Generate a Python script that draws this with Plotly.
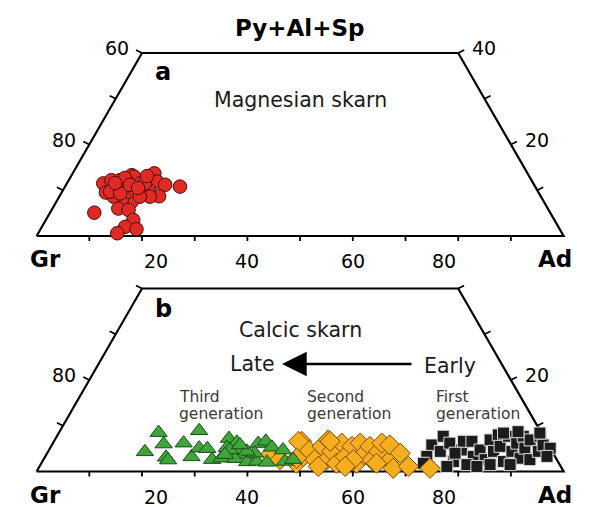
import plotly.graph_objects as go

# --- Page size (reference pixels) ---
W: int = 592
H: int = 507
OFF: int = 8            # default body margin of the html page
FW, FH = W - OFF, H - OFF

# --- Data (mol %, Gr = 100 - Ad - Py) ---
# Panel a : magnesian skarn
mg_ad = [6.9, 8.4, 8.1, 9.7, 11.4, 12.0, 13.9, 15.5, 16.9, 18.8, 21.8, 18.9, 15.3, 14.3,
         12.2, 10.3, 12.5, 14.6, 8.4, 16.6, 15.8, 18.2, 15.0, 11.1, 12.6, 13.6, 16.2, 14.8,
         10.0, 9.1, 11.2, 17.2, 11.2, 15.3, 10.4, 12.1, 14.0, 9.1, 14.4]
mg_py = [11.5, 9.5, 12.2, 12.2, 13.3, 13.0, 11.5, 13.7, 11.9, 11.2, 10.8, 8.7, 9.3, 7.5,
         7.9, 8.6, 6.0, 5.7, 5.1, 3.5, 2.0, 1.5, 0.6, 10.8, 9.7, 10.1, 10.1, 11.5,
         10.4, 9.7, 11.9, 8.6, 9.3, 8.6, 12.7, 11.2, 10.5, 11.6, 13.1]

# Panel b : calcic skarn, third generation (green)
g3_ad = [18.4, 18.9, 21.1, 23.0, 23.7, 24.8, 26.4, 27.8, 28.3, 29.9, 32.0, 33.6, 32.9, 33.5,
         34.8, 35.7, 36.3, 38.3, 38.9, 40.7, 39.0, 40.2, 42.7, 42.0, 44.4, 46.0, 47.4, 39.4,
         34.3, 37.7, 33.9, 35.7]
g3_py = [4.3, 8.5, 6.0, 3.1, 2.5, 6.2, 8.9, 3.2, 5.1, 5.0, 2.6, 2.9, 7.2, 5.2,
         6.4, 4.7, 2.8, 3.7, 2.1, 2.2, 6.1, 6.6, 2.0, 5.3, 4.7, 2.2, 2.6, 4.0,
         4.7, 4.4, 3.7, 5.8]

# second generation (orange)
g2_ad = [47.0, 48.4, 49.0, 49.2, 51.5, 51.4, 51.9, 53.8, 53.8, 56.0, 54.8, 56.9, 57.1, 59.8,
         58.3, 60.2, 60.5, 62.3, 62.7, 62.4, 65.8, 64.1, 67.3, 67.0, 70.0, 74.3, 52.9, 52.4,
         58.8, 63.6, 58.0, 42.5, 44.9, 46.4, 47.9]
g2_py = [6.6, 1.8, 3.3, 4.7, 2.6, 5.5, 6.9, 2.6, 4.4, 1.8, 6.2, 3.3, 5.5, 1.8,
         6.2, 3.7, 5.5, 2.6, 4.4, 6.2, 2.6, 5.8, 0.7, 4.0, 1.1, 0.7, 1.1, 6.6,
         2.6, 1.8, 1.1, 3.7, 2.6, 6.6, 2.9]

# first generation (black)
g1_ad = [72.1, 72.4, 72.5, 73.3, 74.4, 75.3, 78.0, 78.3, 77.7, 79.3, 81.2, 80.9, 81.8, 83.8,
         82.6, 84.5, 83.6, 85.2, 87.5, 85.7, 88.0, 88.0, 90.3, 88.5, 90.1, 90.2, 92.3, 93.0,
         91.7, 93.2, 94.9, 95.2, 77.3, 83.0, 85.3, 89.1, 77.4, 84.4, 87.0, 91.3]
g1_py = [5.8, 3.3, 1.8, 7.7, 4.4, 6.2, 2.2, 4.7, 6.6, 6.6, 3.3, 1.5, 4.7, 2.6,
         6.9, 4.4, 8.0, 5.5, 2.2, 7.7, 4.4, 6.2, 2.9, 7.7, 5.1, 6.9, 2.6, 4.4,
         7.7, 5.8, 5.1, 3.3, 1.1, 1.1, 1.5, 1.5, 4.0, 8.4, 8.7, 8.4]

# --- Axis ticks ---
PY_MAX = 40                      # diagram cut at Py+Al+Sp = 40
bottom_ticks = [10, 20, 30, 40, 50, 60, 70, 80, 90]
bottom_labels = [20, 40, 60, 80]
side_ticks = [10, 20, 30, 40]    # Py values along the sides
left_labels_a = {40: "60", 20: "80"}
right_labels_a = {40: "40", 20: "20"}
left_labels_b = {20: "80"}
right_labels_b = {20: "20"}

# --- Pixel geometry (reference pixels) ---
X0_PX = 36.6       # pixel of Gr corner
X_SCALE = 5.27     # px per % along the base
Y_SCALE = 4.575    # px per % of Py
PANELS = {         # (top px, bottom px, baseline px)
    "a": (OFF, 255, 236.0),
    "b": (255, H, 471.5),
}
FONT = "DejaVu Sans, Arial, sans-serif"


def to_xy(ad, py):
    """Ternary (Ad, Py) -> cartesian (x along base, y = Py)."""
    return [a + p / 2 for a, p in zip(ad, py)], list(py)


def paper(x_px, y_px):
    return (x_px - OFF) / FW, 1 - (y_px - OFF) / FH


def frame_traces(xa, ya):
    tr = []
    fx, fy = to_xy([0, 0, 100 - PY_MAX, 100], [0, PY_MAX, PY_MAX, 0])
    tr.append(go.Scatter(x=fx + [fx[0]], y=fy + [fy[0]], mode="lines",
                         line=dict(color="black", width=2.2), xaxis=xa, yaxis=ya,
                         hoverinfo="skip", cliponaxis=False))
    tx, ty = [], []
    for t in bottom_ticks:
        tx += [t, t, None]
        ty += [0, -5 / Y_SCALE, None]
    for p in side_ticks:
        tx += [p / 2, p / 2 - 6 / X_SCALE, None]
        ty += [p, p + 3 / Y_SCALE, None]
        tx += [100 - p / 2, 100 - p / 2 + 6 / X_SCALE, None]
        ty += [p, p + 3 / Y_SCALE, None]
    tr.append(go.Scatter(x=tx, y=ty, mode="lines", line=dict(color="black", width=1.8),
                         xaxis=xa, yaxis=ya, hoverinfo="skip", cliponaxis=False))
    return tr


def axis_annotations(base_px, left_labels, right_labels):
    ann = []
    for t in bottom_labels:
        x, y = paper(X0_PX + t * X_SCALE, base_px + 25)
        ann.append(dict(x=x, y=y, text=str(t), font=dict(size=19)))
    for p, lab in left_labels.items():
        x, y = paper(X0_PX + p / 2 * X_SCALE - 11, base_px - p * Y_SCALE - 5)
        ann.append(dict(x=x, y=y, text=lab, xanchor="right", font=dict(size=19)))
    for p, lab in right_labels.items():
        x, y = paper(X0_PX + (100 - p / 2) * X_SCALE + 12, base_px - p * Y_SCALE - 5)
        ann.append(dict(x=x, y=y, text=lab, xanchor="left", font=dict(size=19)))
    x, y = paper(28, base_px + 23)
    ann.append(dict(x=x, y=y, text="<b>Gr</b>", font=dict(size=23)))
    x, y = paper(574, base_px + 23)
    ann.append(dict(x=x, y=y, text="<b>Ad</b>", font=dict(size=23)))
    return ann


fig = go.Figure()

for xa, ya in (("x", "y"), ("x2", "y2")):
    for tr in frame_traces(xa, ya):
        fig.add_trace(tr)

x, y = to_xy(mg_ad, mg_py)
fig.add_trace(go.Scatter(x=x, y=y, mode="markers", name="Magnesian skarn",
                         marker=dict(symbol="circle", size=13.5, color="#e02a24",
                                     line=dict(color="#4a0a08", width=1)),
                         xaxis="x", yaxis="y", cliponaxis=False))

x, y = to_xy(g1_ad, g1_py)
fig.add_trace(go.Scatter(x=x, y=y, mode="markers", name="First generation",
                         marker=dict(symbol="square", size=12, color="#1c1c1c",
                                     line=dict(color="#dddddd", width=1)),
                         xaxis="x2", yaxis="y2", cliponaxis=False))
x, y = to_xy(g2_ad, g2_py)
fig.add_trace(go.Scatter(x=x, y=y, mode="markers", name="Second generation",
                         marker=dict(symbol="diamond", size=15.5, color="#f7ae1e",
                                     line=dict(color="#7a4a00", width=1)),
                         xaxis="x2", yaxis="y2", cliponaxis=False))
x, y = to_xy(g3_ad, g3_py)
fig.add_trace(go.Scatter(x=x, y=y, mode="markers", name="Third generation",
                         marker=dict(symbol="triangle-up", size=15, color="#3fa63a",
                                     line=dict(color="#1d4a1b", width=1)),
                         xaxis="x2", yaxis="y2", cliponaxis=False))

# --- Text ---
ann = (axis_annotations(PANELS["a"][2], left_labels_a, right_labels_a)
       + axis_annotations(PANELS["b"][2], left_labels_b, right_labels_b))
texts = [
    (300, 28, "<b>Py+Al+Sp</b>", 23, "black", "center"),
    (153, 72, "<b>a</b>", 24, "black", "left"),
    (300, 100, "Magnesian skarn", 20.5, "#1a1a1a", "center"),
    (153, 309, "<b>b</b>", 24, "black", "left"),
    (300, 330, "Calcic skarn", 20.5, "#1a1a1a", "center"),
    (228, 364, "Late", 20.5, "#1a1a1a", "left"),
    (422, 366, "Early", 20.5, "#1a1a1a", "left"),
    (177, 397, "Third", 15.5, "#3a3a3a", "left"),
    (177, 414, "generation", 15.5, "#3a3a3a", "left"),
    (305, 397, "Second", 15.5, "#3a3a3a", "left"),
    (305, 414, "generation", 15.5, "#3a3a3a", "left"),
    (434, 397, "First", 15.5, "#3a3a3a", "left"),
    (434, 414, "generation", 15.5, "#3a3a3a", "left"),
]
for xp, yp, txt, size, color, anchor in texts:
    x, y = paper(xp, yp)
    ann.append(dict(x=x, y=y, text=txt, xanchor=anchor,
                    font=dict(size=size, color=color)))

# Late <- Early arrow
x, y = paper(282, 364)
ann.append(dict(x=x, y=y, text="", showarrow=True, ax=131, ay=0,
                arrowhead=2, arrowsize=1.9, arrowwidth=2.6, arrowcolor="black"))

for a in ann:
    a.setdefault("showarrow", False)
    a.setdefault("yanchor", "middle")
    a["xref"] = "paper"
    a["yref"] = "paper"
    a.setdefault("font", {})
    a["font"].setdefault("color", "black")
    a["font"]["family"] = FONT

x0 = X0_PX - OFF
xrange = [-x0 / X_SCALE, (FW - x0) / X_SCALE]
axis_common = dict(visible=False, showgrid=False, zeroline=False, fixedrange=True)


def y_layout(panel):
    top, bottom, base = PANELS[panel]
    return dict(domain=[1 - (bottom - OFF) / FH, 1 - (top - OFF) / FH],
                range=[(base - bottom) / Y_SCALE, (base - top) / Y_SCALE], **axis_common)


fig.update_layout(
    width=FW, height=FH,
    margin=dict(l=0, r=0, t=0, b=0, autoexpand=False),
    paper_bgcolor="white", plot_bgcolor="white",
    showlegend=False,
    xaxis=dict(range=xrange, anchor="y", **axis_common),
    xaxis2=dict(range=xrange, anchor="y2", **axis_common),
    yaxis=dict(anchor="x", **y_layout("a")),
    yaxis2=dict(anchor="x2", **y_layout("b")),
    annotations=ann,
    font=dict(family=FONT),
)

fig.write_html("out.html")
